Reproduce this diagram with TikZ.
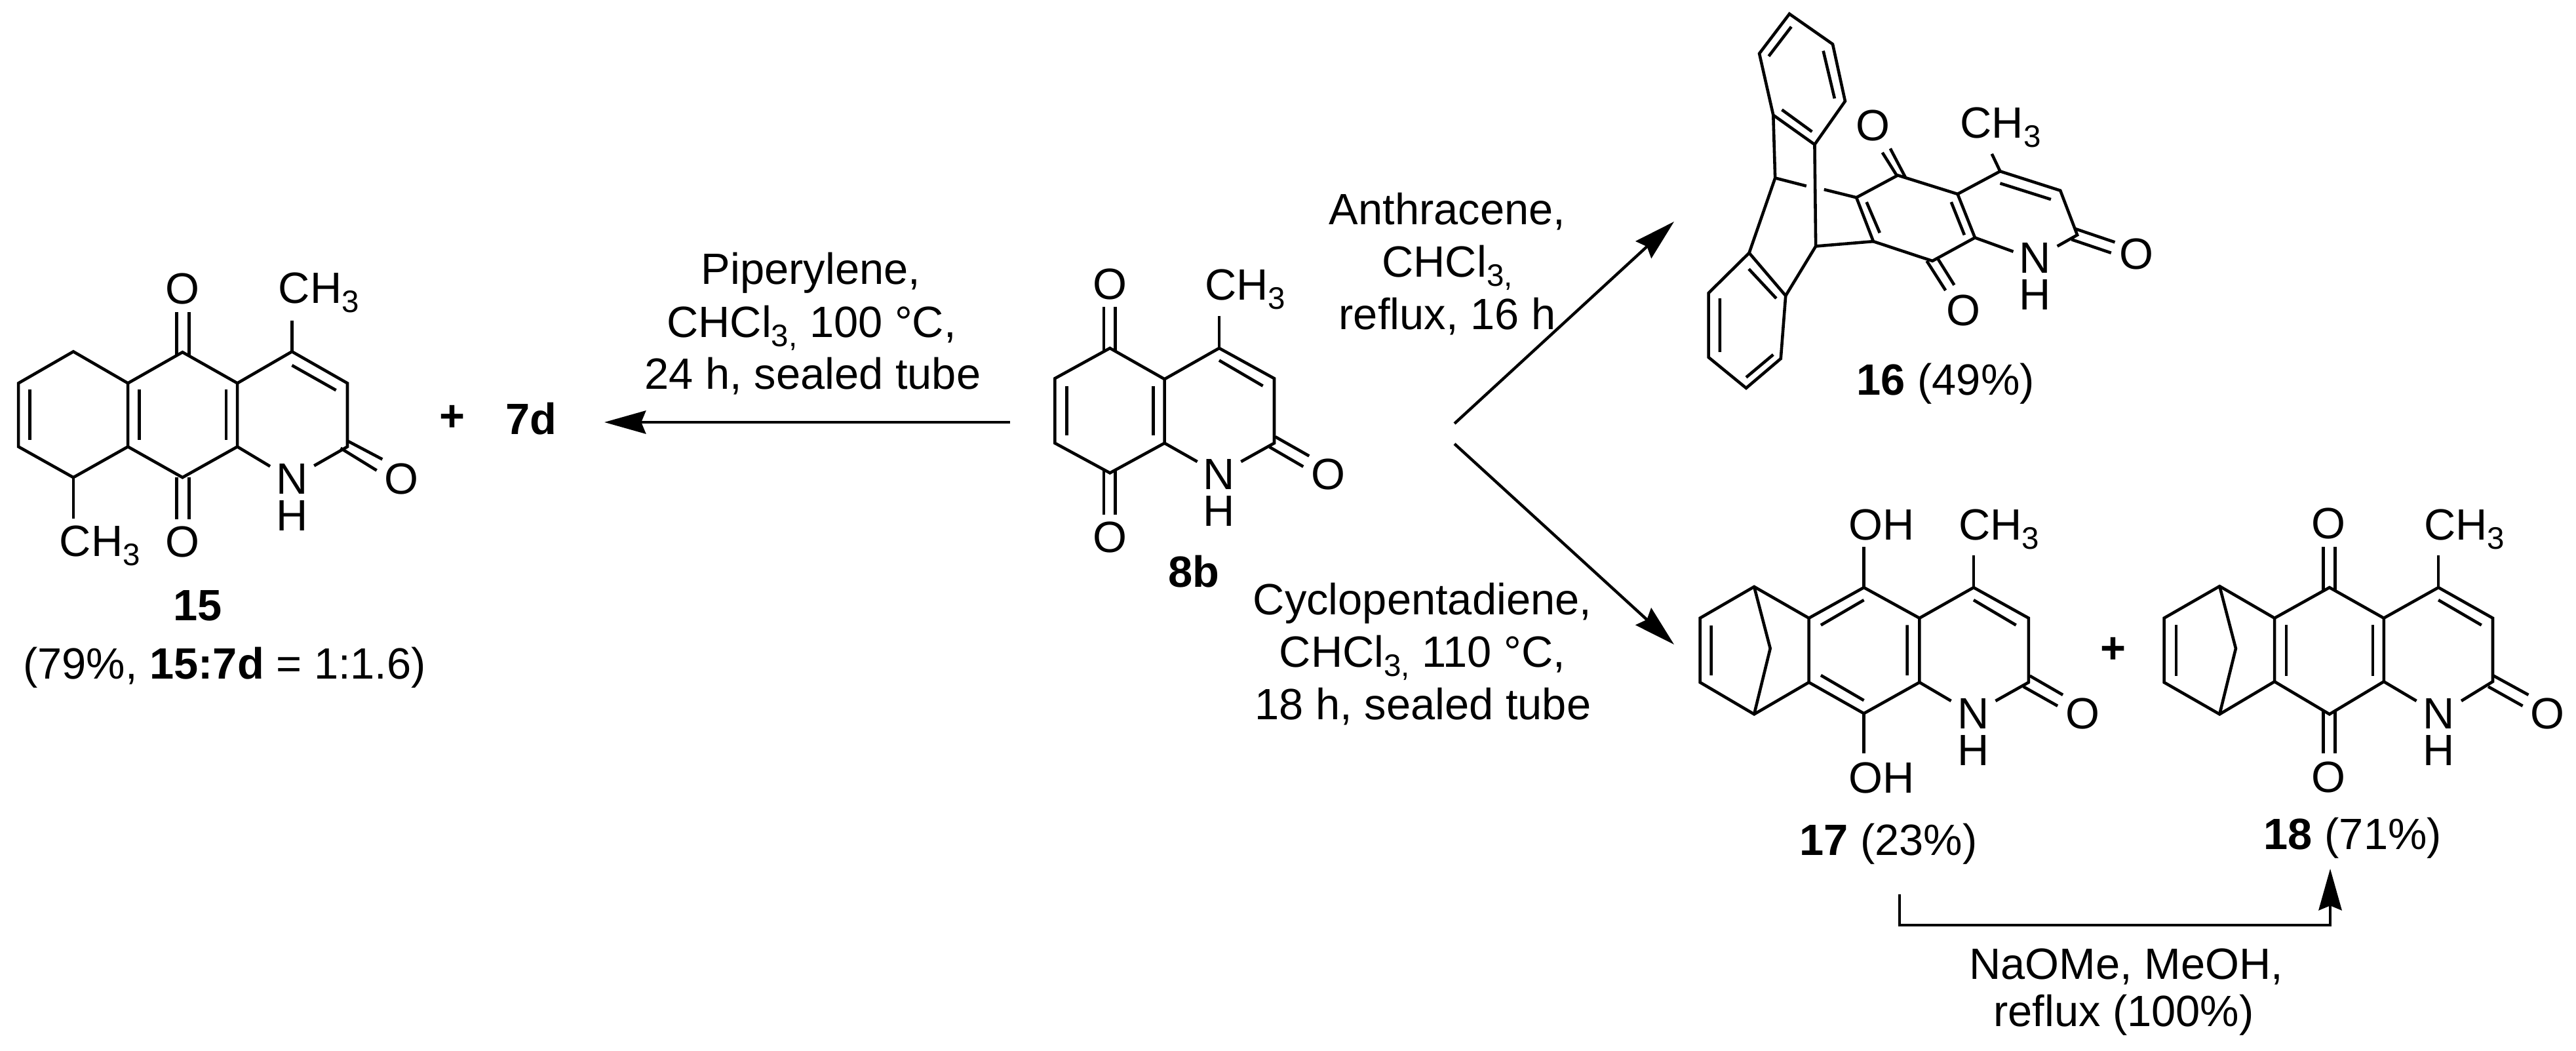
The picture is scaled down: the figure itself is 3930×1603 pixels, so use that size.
\documentclass[tikz,border=0pt]{standalone}
\usepackage{fontspec}
\setmainfont{Liberation Sans}
\usetikzlibrary{arrows.meta}
\newcommand{\chemsub}[1]{\raisebox{-4pt}{\fontsize{13.5}{13.5}\selectfont #1}}
\newcommand{\methyl}{CH\chemsub{3}}
\tikzset{
  bond/.style={line width=1.3pt, line join=miter, line cap=butt},
  atom/.style={inner sep=0pt, font=\fontsize{19}{22}\selectfont},
  atombase/.style={atom, anchor=base},
  atomwest/.style={atom, anchor=base west},
  rxn/.style={line width=1.25pt, -{Stealth[length=18pt,width=10pt,inset=2pt]}},
  zoneA/.style={shift={(0,380)}, xscale=.4337, yscale=.4464},
  zoneB/.style={shift={(1560,380)}, xscale=.3333, yscale=.3448},
  zoneC/.style={shift={(2420,0)}, xscale=.5740, yscale=.4082},
  zoneD/.style={shift={(2540,720)}, xscale=.4464, yscale=.3827},
  zoneE/.style={shift={(3200,720)}, xscale=.4656, yscale=.3827},
}
\begin{document}
\begin{tikzpicture}[x=0.01cm,y=-0.01cm]
\useasboundingbox (0,0) rectangle (3930,1603);

% ---------- compound 15
\begin{scope}[zoneA]
\draw[bond] (258,350)--(65,458)--(65,675)--(258,780)--(450,675)--(450,458)--cycle;
\draw[bond] (450,458)--(642,352)--(835,458)--(835,675)--(642,780)--(450,675);
\draw[bond] (835,458)--(1027,350)--(1222,458)--(1222,675)--(1105,740);
\draw[bond] (835,675)--(950,742);
\draw[bond] (105,480)--(105,652) (490,480)--(490,652) (795,480)--(795,652);
\draw[bond] (1027,397)--(1182,482);
\draw[bond] (622,215)--(622,363) (665,215)--(665,363);
\draw[bond] (622,780)--(622,922) (665,780)--(665,922);
\draw[bond] (1027,245)--(1027,350) (258,780)--(258,920);
\draw[bond] (1222,655)--(1345,718) (1198,680)--(1325,756);
\node[atom] (o15a) at (642,135) {O};
\node[atom] (o15b) at (642,1000) {O};
\node[atom] (o15c) at (1413,785) {O};
\node[atom] (n15) at (1027,785) {N};
\node[atom] (h15) at (1027,910) {H};
\node[atomwest] (me15a) at (978,185) {\methyl};
\node[atomwest] (me15b) at (208,1050) {\methyl};
\node[atombase] (lab15) at (695,1268) {\bfseries 15};
\node[atombase] (yield15) at (790,1468) {(79\%, \textbf{15:7d} = 1:1.6)};
\end{scope}

\node[atom] (plus1) at (690,638) {\bfseries +};
\node[atombase] (lab7d) at (810,662) {\bfseries 7d};

% ---------- conditions, left arrow
\coordinate (a1s) at (1541,644);
\coordinate (a1e) at (922,644);
\draw[rxn] (a1s) -- (a1e);
\node[atombase] (c1a) at (1237,433) {Piperylene,};
\node[atombase] (c1b) at (1238,514) {CHCl\chemsub{3,} 100 °C,};
\node[atombase] (c1c) at (1240,593) {24 h, sealed tube};

% ---------- compound 8b
\begin{scope}[zoneB]
\draw[bond] (400,438)--(148,572)--(148,858)--(400,990)--(650,858)--(650,575)--cycle;
\draw[bond] (650,575)--(900,438)--(1152,572)--(1152,858)--(1000,940);
\draw[bond] (650,858)--(800,940);
\draw[bond] (203,605)--(203,825) (598,605)--(598,825);
\draw[bond] (900,492)--(1100,605);
\draw[bond] (372,255)--(372,452) (425,255)--(425,452);
\draw[bond] (372,976)--(372,1175) (425,976)--(425,1175);
\draw[bond] (900,295)--(900,438);
\draw[bond] (1157,830)--(1312,915) (1130,875)--(1285,962);
\node[atom] (o8a) at (400,155) {O};
\node[atom] (o8b) at (400,1275) {O};
\node[atom] (o8c) at (1400,995) {O};
\node[atom] (n8) at (900,995) {N};
\node[atom] (h8) at (900,1160) {H};
\node[atomwest] (me8) at (833,225) {\methyl};
\node[atombase] (lab8b) at (785,1495) {\bfseries 8b};
\end{scope}

% ---------- upper right arrow
\coordinate (hub1) at (2219,646);
\coordinate (tip1) at (2554,338);
\draw[rxn] (hub1) -- (tip1);
\node[atombase] (c2a) at (2208,342) {Anthracene,};
\node[atombase] (c2b) at (2208,422) {CHCl\chemsub{3,}};
\node[atombase] (c2c) at (2208,502) {reflux, 16 h};

% ---------- compound 16
\begin{scope}[zoneC]
\draw[bond] (540,52)--(655,165)--(688,378)--(607,540)--(497,430)--(460,200)--cycle;
\draw[bond] (545,100)--(485,210) (630,190)--(660,368) (520,410)--(600,492);
\draw[bond] (497,430)--(502,665)--(433,945);
\draw[bond] (607,540)--(610,920)--(530,1105);
\draw[bond] (433,945)--(530,1105)--(517,1340)--(425,1450)--(325,1335)--(325,1095)--cycle;
\draw[bond] (432,1005)--(505,1115) (355,1115)--(355,1315) (497,1325)--(425,1410);
\draw[bond] (502,665)--(585,695) (632,708)--(718,738);
\draw[bond] (610,920)--(763,902);
\draw[bond] (718,738)--(828,655)--(987,725)--(1033,888)--(920,975)--(763,902)--cycle;
\draw[bond] (745,755)--(780,870) (970,755)--(1005,878);
\draw[bond] (987,725)--(1100,640)--(1260,712)--(1305,878)--(1252,920);
\draw[bond] (1100,685)--(1235,745);
\draw[bond] (1033,888)--(1135,940);
\draw[bond] (1300,855)--(1405,905) (1290,895)--(1395,945);
\draw[bond] (808,555)--(848,662) (787,570)--(825,655);
\draw[bond] (905,975)--(955,1085) (935,968)--(978,1065);
\draw[bond] (1078,575)--(1100,640);
\node[atom] (o16a) at (762,470) {O};
\node[atom] (o16b) at (1002,1160) {O};
\node[atom] (o16c) at (1463,950) {O};
\node[atom] (n16) at (1192,965) {N};
\node[atom] (h16) at (1192,1100) {H};
\node[atomwest] (me16) at (993,515) {\methyl};
\node[atombase] (lab16) at (955,1475) {\textbf{16} (49\%)};
\end{scope}

% ---------- lower right arrow
\coordinate (hub2) at (2219,677);
\coordinate (tip2) at (2554,983);
\draw[rxn] (hub2) -- (tip2);
\node[atombase] (c3a) at (2170,937) {Cyclopentadiene,};
\node[atombase] (c3b) at (2170,1017) {CHCl\chemsub{3,} 110 °C,};
\node[atombase] (c3c) at (2171,1097) {18 h, sealed tube};

% ---------- compound 17
\begin{scope}[zoneD]
\draw[bond] (305,457)--(120,582)--(120,838)--(305,965)--(492,838)--(492,582)--cycle;
\draw[bond] (305,457)--(360,703)--(305,965);
\draw[bond] (492,582)--(680,460)--(870,582)--(870,838)--(680,962)--(492,838);
\draw[bond] (870,582)--(1055,460)--(1243,582)--(1243,838)--(1130,912);
\draw[bond] (870,838)--(978,912);
\draw[bond] (158,612)--(158,810) (680,510)--(533,610) (533,810)--(680,910);
\draw[bond] (828,610)--(828,810) (1055,510)--(1200,610);
\draw[bond] (680,460)--(680,298) (680,962)--(680,1122);
\draw[bond] (1055,460)--(1055,332);
\draw[bond] (1247,812)--(1360,888) (1225,855)--(1342,932);
\node[atomwest] (oh17a) at (626,270) {OH};
\node[atomwest] (oh17b) at (626,1278) {OH};
\node[atomwest] (me17) at (1003,270) {\methyl};
\node[atom] (n17) at (1055,962) {N};
\node[atom] (h17) at (1055,1108) {H};
\node[atom] (o17) at (1428,962) {O};
\node[atombase] (lab17) at (764,1528) {\textbf{17} (23\%)};
\end{scope}

\node[atom] (plus2) at (3224,992) {\bfseries +};

% ---------- compound 18
\begin{scope}[zoneE]
\draw[bond] (400,455)--(218,582)--(218,838)--(400,965)--(580,835)--(580,582)--cycle;
\draw[bond] (400,455)--(453,703)--(400,965);
\draw[bond] (580,582)--(760,460)--(938,582)--(938,835)--(760,965)--(580,835);
\draw[bond] (938,582)--(1117,460)--(1295,582)--(1295,835)--(1192,912);
\draw[bond] (938,835)--(1045,912);
\draw[bond] (258,610)--(258,812) (618,610)--(618,812) (902,610)--(902,812);
\draw[bond] (1117,510)--(1258,610);
\draw[bond] (740,298)--(740,473) (778,298)--(778,473);
\draw[bond] (740,952)--(740,1122) (778,952)--(778,1122);
\draw[bond] (1117,332)--(1117,460);
\draw[bond] (1295,810)--(1412,888) (1280,855)--(1393,932);
\node[atom] (o18a) at (758,205) {O};
\node[atom] (o18b) at (758,1215) {O};
\node[atom] (o18c) at (1475,962) {O};
\node[atom] (n18) at (1117,962) {N};
\node[atom] (h18) at (1117,1108) {H};
\node[atomwest] (me18) at (1068,270) {\methyl};
\node[atombase] (lab18) at (836,1503) {\textbf{18} (71\%)};
\end{scope}

% ---------- bracket arrow 17 -> 18
\coordinate (br1) at (2898,1364);
\coordinate (br2) at (2898,1411);
\coordinate (br3) at (3555,1411);
\coordinate (br4) at (3555,1325);
\draw[rxn, line join=miter] (br1) -- (br2) -- (br3) -- (br4);
\node[atombase] (c4a) at (3244,1493) {NaOMe, MeOH,};
\node[atombase] (c4b) at (3240,1565) {reflux (100\%)};
\end{tikzpicture}
\end{document}
